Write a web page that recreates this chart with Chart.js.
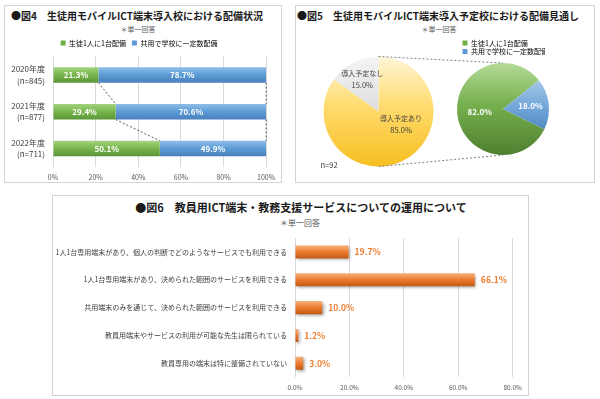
<!DOCTYPE html>
<html lang="ja">
<head>
<meta charset="utf-8">
<title>ICT端末の配備状況と運用</title>
<script src="https://cdn.jsdelivr.net/npm/chart.js@4.4.1/dist/chart.umd.min.js"></script>
<style>
  html, body { margin: 0; padding: 0; background: #fff; overflow: hidden; }
  body { font-family: "Noto Sans CJK JP", "Noto Sans", sans-serif; }
  .panel { position: absolute; border: 1px solid #d4d4d4; box-sizing: border-box; }
  canvas { position: absolute; }
  .fig-title { position: absolute; text-align: center; white-space: nowrap; font-weight: bold;
               font-size: 10px; line-height: 12px; color: #1a1a1a; }
  .fig-note { position: absolute; text-align: center; white-space: nowrap;
              font-size: 7px; line-height: 9px; color: #595959; }
</style>
</head>
<body>
<div class="panel" style="left:4px;top:5px;width:278px;height:178px"></div>
<div class="panel" style="left:295px;top:5px;width:300px;height:178px"></div>
<div class="panel" style="left:52px;top:195px;width:477px;height:201px"></div>

<div class="fig-title" style="left:-13px;top:10px;width:300px">●図4　生徒用モバイルICT端末導入校における配備状況</div>
<div class="fig-note" style="left:-12px;top:24.5px;width:300px">＊単一回答</div>
<canvas id="fig4" width="276" height="181" style="left:5px;top:6px"></canvas>

<div class="fig-title" style="left:288px;top:10px;width:300px">●図5　生徒用モバイルICT端末導入予定校における配備見通し</div>
<div class="fig-note" style="left:289px;top:24.5px;width:300px">＊単一回答</div>
<canvas id="fig5main" width="297" height="180" style="left:296px;top:6px"></canvas>
<canvas id="fig5sub" width="297" height="180" style="left:296px;top:6px"></canvas>

<div class="fig-title" style="left:101px;top:200px;width:400px;font-size:11px;line-height:14px">●図6　教員用ICT端末・教務支援サービスについての運用について</div>
<div class="fig-note" style="left:150px;top:218px;width:300px;font-size:8px;line-height:10px">＊単一回答</div>
<canvas id="fig6" width="475" height="201" style="left:53px;top:196px"></canvas>
<script>
// --- 図4 ---
const fig4Years = ['2020年度', '2021年度', '2022年度'];
const fig4Counts = ['(n=845)', '(n=877)', '(n=711)'];
const fig4Series = ['生徒1人に1台配備', '共用で学校に一定数配備'];
const fig4OnePerStudent = [21.3, 29.4, 50.1];
const fig4Shared = [78.7, 70.6, 49.9];

// --- 図5 ---
const fig5PlanLabels = ['導入予定あり', '導入予定なし'];
const fig5PlanValues = [85.0, 15.0];
const fig5SplitLabels = ['生徒1人に1台配備', '共用で学校に一定数配備'];
const fig5SplitValues = [82.0, 18.0];
const fig5Sample = 'n=92';

// --- 図6 ---
const fig6Items = [
  '1人1台専用端末があり、個人の判断でどのようなサービスでも利用できる',
  '1人1台専用端末があり、決められた範囲のサービスを利用できる',
  '共用端末のみを通じて、決められた範囲のサービスを利用できる',
  '教員用端末やサービスの利用が可能な先生は限られている',
  '教員専用の端末は特に整備されていない'
];
const fig6Values = [19.7, 66.1, 10.0, 1.2, 3.0];

// colours (Excel-like gradients)
const GREEN_STOPS = [[0, '#a3d47f'], [0.5, '#78b44c'], [1, '#5a9636']];
const BLUE_STOPS = [[0, '#8fbde8'], [0.5, '#5b9bd5'], [1, '#4a80bd']];
const ORANGE_STOPS = [[0, '#f7b27c'], [0.5, '#ec7a2f'], [1, '#c45a15']];
const YELLOW_STOPS = [[0, '#fff6d8'], [0.45, '#ffdb6e'], [1, '#f7bf20']];
const GRAY_STOPS = [[0, '#f4f4f4'], [0.5, '#dedede'], [1, '#c8c8c8']];
const SUB_GREEN_STOPS = [[0, '#b4da98'], [0.45, '#76b04e'], [1, '#4f7f30']];
const SUB_BLUE_STOPS = [[0, '#c3dbf0'], [0.5, '#6fa4d8'], [1, '#2c67a3']];
const SPLIT_SOLID = ['#70ad47', '#5b9bd5'];

const FONT = '"Noto Sans CJK JP", "Noto Sans", sans-serif';
const FIG4_BAR = 0.42;
const FIG6_BAR = 0.47;
const MAIN_R = 55;
const SUB_R = 46;

Chart.defaults.font.family = FONT;
Chart.defaults.color = '#404040';
Chart.defaults.animation = false;
Chart.defaults.responsive = false;
Chart.defaults.events = [];
Chart.defaults.plugins.tooltip.enabled = false;

function makeGradient(ctx, y0, y1, stops) {
  const g = ctx.createLinearGradient(0, y0, 0, y1);
  stops.forEach(([o, col]) => g.addColorStop(o, col));
  return g;
}

// vertical gradient across one horizontal bar, taken from the category scale
function barFill(c, stops, pct) {
  const chart = c.chart;
  const s = chart.scales.y;
  if (!s || c.dataIndex === undefined) return stops[1][1];
  const mid = s.getPixelForValue(c.dataIndex);
  const half = s.height / chart.data.labels.length * pct / 2;
  if (!isFinite(mid) || !isFinite(half) || half <= 0) return stops[1][1];
  return makeGradient(chart.ctx, mid - half, mid + half, stops);
}

function pieFill(c, radius, stops) {
  const a = c.chart.chartArea;
  if (!a) return stops[1][1];
  const cy = (a.top + a.bottom) / 2;
  return makeGradient(c.chart.ctx, cy - radius, cy + radius, stops);
}

// dotted series lines between stacked bars
const seriesLines = {
  id: 'seriesLines',
  afterDatasetsDraw(chart) {
    const ctx = chart.ctx;
    ctx.save();
    ctx.setLineDash([2, 2]);
    ctx.strokeStyle = '#595959';
    ctx.lineWidth = 1;
    chart.data.datasets.forEach((ds, di) => {
      const bars = chart.getDatasetMeta(di).data;
      for (let i = 0; i < bars.length - 1; i++) {
        const a = bars[i], b = bars[i + 1];
        ctx.beginPath();
        ctx.moveTo(a.x, a.y + a.height / 2);
        ctx.lineTo(b.x, b.y - b.height / 2);
        ctx.stroke();
      }
    });
    ctx.restore();
  }
};

// white value labels centred in each bar segment
const insideLabels = {
  id: 'insideLabels',
  afterDatasetsDraw(chart) {
    const ctx = chart.ctx;
    ctx.save();
    ctx.font = 'bold 8px ' + FONT;
    ctx.fillStyle = '#ffffff';
    ctx.textAlign = 'center';
    ctx.textBaseline = 'middle';
    chart.data.datasets.forEach((ds, di) => {
      chart.getDatasetMeta(di).data.forEach((bar, i) => {
        ctx.fillText(ds.data[i].toFixed(1) + '%', (bar.x + bar.base) / 2, bar.y);
      });
    });
    ctx.restore();
  }
};

// soft drop shadow under bars
const barShadow = {
  id: 'barShadow',
  beforeDatasetsDraw(chart) {
    const ctx = chart.ctx;
    ctx.save();
    ctx.shadowColor = 'rgba(0,0,0,0.35)';
    ctx.shadowBlur = 3;
    ctx.shadowOffsetX = 1.5;
    ctx.shadowOffsetY = 1.5;
  },
  afterDatasetsDraw(chart) {
    chart.ctx.restore();
  }
};

// orange value labels after bar end
const endLabels = {
  id: 'endLabels',
  afterDatasetsDraw(chart) {
    const ctx = chart.ctx;
    ctx.save();
    ctx.font = 'bold 8.5px ' + FONT;
    ctx.fillStyle = '#ed7d31';
    ctx.textAlign = 'left';
    ctx.textBaseline = 'middle';
    const ds = chart.data.datasets[0];
    chart.getDatasetMeta(0).data.forEach((bar, i) => {
      ctx.fillText(ds.data[i].toFixed(1) + '%', bar.x + 6, bar.y);
    });
    ctx.restore();
  }
};

// pie slice labels, placed along each slice's mid angle
const sliceLabels = {
  id: 'sliceLabels',
  afterDatasetsDraw(chart, args, opts) {
    const ctx = chart.ctx;
    const ds = chart.data.datasets[0];
    ctx.save();
    ctx.textAlign = 'center';
    ctx.textBaseline = 'middle';
    chart.getDatasetMeta(0).data.forEach((arc, i) => {
      const mid = (arc.startAngle + arc.endAngle) / 2 + (opts.shift[i] || 0) * Math.PI / 180;
      const d = arc.outerRadius * opts.dist[i];
      const x = arc.x + Math.cos(mid) * d;
      const y = arc.y + Math.sin(mid) * d;
      const value = ds.data[i].toFixed(1) + '%';
      ctx.fillStyle = opts.color;
      if (opts.showName) {
        ctx.font = '7px ' + FONT;
        ctx.fillText(chart.data.labels[i], x, y - 6);
        ctx.font = '7.5px ' + FONT;
        ctx.fillText(value, x, y + 6);
      } else {
        ctx.font = 'bold 8px ' + FONT;
        ctx.fillText(value, x, y);
      }
    });
    ctx.restore();
  }
};

// sample size note at the lower left of the main pie
const sampleNote = {
  id: 'sampleNote',
  afterDraw(chart) {
    const arc = chart.getDatasetMeta(0).data[0];
    const ctx = chart.ctx;
    ctx.save();
    ctx.font = '7.5px ' + FONT;
    ctx.fillStyle = '#404040';
    ctx.textAlign = 'left';
    ctx.textBaseline = 'middle';
    ctx.fillText(fig5Sample, arc.x - arc.outerRadius - 3, arc.y + arc.outerRadius - 1);
    ctx.restore();
  }
};

// ---------------- 図4 ----------------
new Chart(document.getElementById('fig4'), {
  type: 'bar',
  data: {
    labels: fig4Years.map((y, i) => [y, fig4Counts[i]]),
    datasets: [
      { label: fig4Series[0], data: fig4OnePerStudent, legendColor: SPLIT_SOLID[0],
        backgroundColor: c => barFill(c, GREEN_STOPS, FIG4_BAR) },
      { label: fig4Series[1], data: fig4Shared, legendColor: SPLIT_SOLID[1],
        backgroundColor: c => barFill(c, BLUE_STOPS, FIG4_BAR) }
    ]
  },
  options: {
    indexAxis: 'y',
    layout: { padding: { left: 6, right: 14, top: 27.5, bottom: 0 } },
    datasets: { bar: { barPercentage: FIG4_BAR, categoryPercentage: 1 } },
    scales: {
      x: {
        stacked: true, min: 0, max: 100,
        ticks: { stepSize: 20, callback: v => v + '%', font: { size: 7 }, color: '#595959', padding: 5.8 },
        grid: { color: '#d9d9d9', drawTicks: false },
        border: { display: false }
      },
      y: {
        stacked: true,
        grid: { display: false, drawTicks: false },
        border: { display: false },
        ticks: { font: { size: 8, lineHeight: 1.4 }, color: '#404040', padding: 8 },
        afterFit: s => { s.width = 42; }
      }
    },
    plugins: {
      legend: {
        labels: {
          boxWidth: 5, boxHeight: 5, padding: 6, font: { size: 7 }, color: '#404040',
          generateLabels: chart => chart.data.datasets.map((ds, i) => ({
            text: ds.label, fillStyle: ds.legendColor, strokeStyle: ds.legendColor,
            lineWidth: 0, datasetIndex: i
          }))
        }
      }
    }
  },
  plugins: [seriesLines, insideLabels]
});

// ---------------- 図5 ----------------
const fig5Main = new Chart(document.getElementById('fig5main'), {
  type: 'pie',
  data: {
    labels: fig5PlanLabels,
    datasets: [{
      data: fig5PlanValues,
      borderWidth: 0,
      backgroundColor: c => pieFill(c, MAIN_R, c.dataIndex === 0 ? YELLOW_STOPS : GRAY_STOPS)
    }]
  },
  options: {
    radius: MAIN_R,
    layout: { padding: { left: 27.5, right: 159.5, top: 50.5, bottom: 19.5 } },
    plugins: {
      legend: { display: false },
      sliceLabels: { showName: true, color: '#404040', dist: [0.47, 0.65], shift: [-34, 0] }
    }
  },
  plugins: [sliceLabels, sampleNote]
});

// dotted lines joining the main pie to the breakdown pie
const pieLinks = {
  id: 'pieLinks',
  afterDraw(chart) {
    const a = fig5Main.getDatasetMeta(0).data[0];
    const b = chart.getDatasetMeta(0).data[0];
    const ctx = chart.ctx;
    ctx.save();
    ctx.setLineDash([2, 2]);
    ctx.strokeStyle = '#7f7f7f';
    ctx.lineWidth = 1;
    ctx.beginPath();
    ctx.moveTo(a.x, a.y - a.outerRadius);
    ctx.lineTo(b.x, b.y - b.outerRadius);
    ctx.moveTo(a.x, a.y + a.outerRadius);
    ctx.lineTo(b.x, b.y + b.outerRadius);
    ctx.stroke();
    ctx.restore();
  }
};

new Chart(document.getElementById('fig5sub'), {
  type: 'pie',
  data: {
    labels: fig5SplitLabels,
    datasets: [{
      data: fig5SplitValues,
      borderWidth: 0,
      backgroundColor: c => pieFill(c, SUB_R, c.dataIndex === 0 ? SUB_GREEN_STOPS : SUB_BLUE_STOPS)
    }]
  },
  options: {
    radius: SUB_R,
    rotation: 116,
    layout: { padding: { left: 165, right: 48, top: 32, bottom: 33 } },
    plugins: {
      legend: {
        align: 'start',
        labels: {
          boxWidth: 5, boxHeight: 5, padding: 1.5, font: { size: 7 }, color: '#404040',
          generateLabels: chart => chart.data.labels.map((t, i) => ({
            text: t, fillStyle: SPLIT_SOLID[i], strokeStyle: SPLIT_SOLID[i], lineWidth: 0, index: i
          }))
        }
      },
      sliceLabels: { showName: false, color: '#ffffff', dist: [0.51, 0.6], shift: [0, 0] }
    }
  },
  plugins: [pieLinks, sliceLabels]
});

// ---------------- 図6 ----------------
const FIG6_AXIS_LEFT = 242;   // chart area starts here inside the canvas

new Chart(document.getElementById('fig6'), {
  type: 'bar',
  data: {
    labels: fig6Items,
    datasets: [{
      label: '教員用ICT端末・教務支援サービスの運用',
      data: fig6Values,
      backgroundColor: c => barFill(c, ORANGE_STOPS, FIG6_BAR)
    }]
  },
  options: {
    indexAxis: 'y',
    layout: { padding: { left: 0, right: 13, top: 42, bottom: 0 } },
    datasets: { bar: { barPercentage: FIG6_BAR, categoryPercentage: 1 } },
    scales: {
      x: {
        min: 0, max: 80,
        ticks: { stepSize: 20, callback: v => v.toFixed(1) + '%', font: { size: 6.5 }, color: '#595959', padding: 6 },
        grid: { color: '#d9d9d9', drawTicks: false },
        border: { display: false }
      },
      y: {
        grid: { display: false, drawTicks: false },
        border: { display: false },
        ticks: { font: { size: 7 }, color: '#404040', padding: 8 },
        afterFit: s => { s.width = FIG6_AXIS_LEFT; }
      }
    },
    plugins: {
      legend: { display: false }
    }
  },
  plugins: [barShadow, endLabels]
});
</script>
</body>
</html>
